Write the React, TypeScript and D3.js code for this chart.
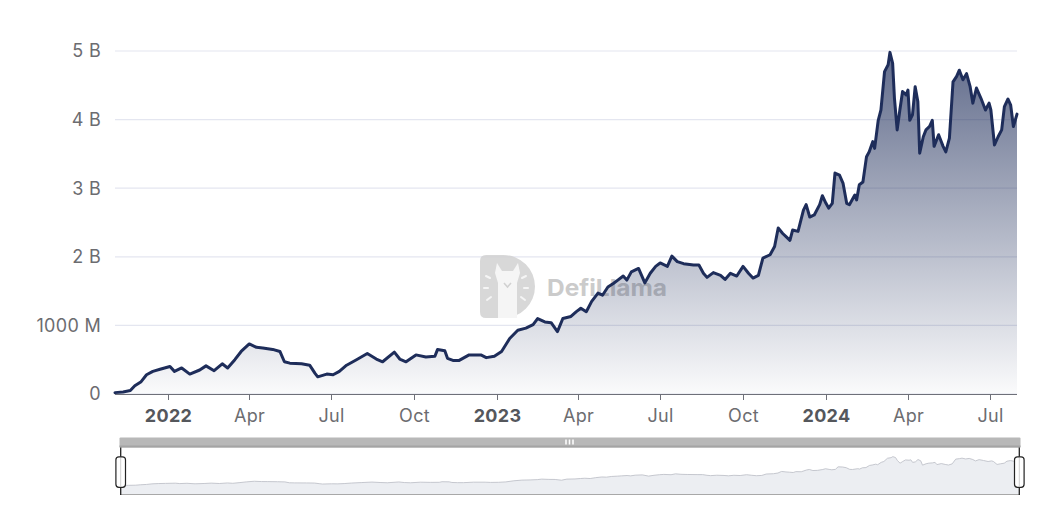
import React from "react";
import * as d3 from "d3";

// TVL in billions USD
const dates: string[] = [
  "2021-11-03","2021-11-12","2021-11-20","2021-11-25","2021-12-02","2021-12-08","2021-12-15","2021-12-23",
  "2022-01-03","2022-01-08","2022-01-16","2022-01-25","2022-02-05","2022-02-12","2022-02-21","2022-03-02",
  "2022-03-08","2022-03-16","2022-03-23","2022-04-01","2022-04-09","2022-04-16","2022-04-27","2022-05-05",
  "2022-05-10","2022-05-16","2022-05-29","2022-06-07","2022-06-13","2022-06-16","2022-06-26","2022-07-03",
  "2022-07-10","2022-07-18","2022-07-29","2022-08-10","2022-08-20","2022-08-27","2022-09-09","2022-09-15",
  "2022-09-22","2022-10-03","2022-10-14","2022-10-24","2022-10-27","2022-11-04","2022-11-07","2022-11-13",
  "2022-11-20","2022-12-01","2022-12-14","2022-12-20","2022-12-29","2023-01-06","2023-01-15","2023-01-24",
  "2023-02-02","2023-02-10","2023-02-15","2023-02-23","2023-03-02","2023-03-09","2023-03-15","2023-03-24",
  "2023-03-30","2023-04-04","2023-04-10","2023-04-16","2023-04-23","2023-04-28","2023-05-04","2023-05-10",
  "2023-05-15","2023-05-21","2023-05-25","2023-05-30","2023-06-07","2023-06-14","2023-06-20","2023-06-26",
  "2023-07-01","2023-07-09","2023-07-14","2023-07-20","2023-07-27","2023-08-07","2023-08-13","2023-08-18",
  "2023-08-22","2023-08-29","2023-09-06","2023-09-11","2023-09-17","2023-09-24","2023-10-01","2023-10-07",
  "2023-10-12","2023-10-18","2023-10-23","2023-10-31","2023-11-05","2023-11-09","2023-11-14","2023-11-18",
  "2023-11-22","2023-11-25","2023-12-01","2023-12-07","2023-12-10","2023-12-14","2023-12-19","2023-12-25",
  "2023-12-28","2024-01-01","2024-01-04","2024-01-08","2024-01-11","2024-01-16","2024-01-20","2024-01-24",
  "2024-01-27","2024-02-02","2024-02-04","2024-02-07","2024-02-11","2024-02-15","2024-02-18","2024-02-22",
  "2024-02-24","2024-02-28","2024-03-02","2024-03-06","2024-03-10","2024-03-12","2024-03-15","2024-03-17",
  "2024-03-20","2024-03-23","2024-03-26","2024-03-30","2024-04-01","2024-04-03","2024-04-06","2024-04-09",
  "2024-04-12","2024-04-14","2024-04-18","2024-04-21","2024-04-25","2024-04-28","2024-04-30","2024-05-05",
  "2024-05-10","2024-05-13","2024-05-17","2024-05-21","2024-05-25","2024-05-28","2024-06-01","2024-06-05",
  "2024-06-09","2024-06-12","2024-06-16","2024-06-21","2024-06-26","2024-06-30","2024-07-02","2024-07-06",
  "2024-07-10","2024-07-14","2024-07-17","2024-07-21","2024-07-24","2024-07-27","2024-07-31",
];

const tvl: number[] = [
  0.02,0.03,0.05,0.12,0.18,0.28,0.33,0.36,
  0.40,0.33,0.38,0.29,0.35,0.41,0.34,0.44,
  0.38,0.50,0.62,0.73,0.68,0.67,0.65,0.62,
  0.47,0.45,0.44,0.42,0.30,0.25,0.29,0.28,
  0.33,0.42,0.50,0.59,0.51,0.47,0.61,0.51,
  0.47,0.57,0.54,0.55,0.65,0.63,0.52,0.49,
  0.49,0.57,0.57,0.53,0.55,0.62,0.81,0.93,
  0.96,1.01,1.10,1.05,1.04,0.91,1.10,1.13,
  1.20,1.25,1.20,1.35,1.47,1.44,1.56,1.61,
  1.66,1.72,1.66,1.78,1.83,1.62,1.76,1.86,
  1.91,1.86,2.01,1.93,1.90,1.88,1.88,1.76,
  1.70,1.77,1.73,1.67,1.76,1.72,1.86,1.76,
  1.69,1.73,1.98,2.03,2.15,2.42,2.34,2.29,
  2.24,2.39,2.37,2.68,2.76,2.58,2.61,2.76,
  2.89,2.78,2.71,2.78,3.22,3.19,3.07,2.78,
  2.76,2.90,2.83,3.05,3.09,3.46,3.53,3.68,
  3.58,3.99,4.14,4.70,4.80,4.98,4.82,4.31,
  3.85,4.14,4.41,4.36,4.43,3.99,4.07,4.48,
  4.26,3.51,3.75,3.85,3.90,3.99,3.61,3.78,
  3.61,3.53,3.73,4.55,4.63,4.72,4.58,4.67,
  4.48,4.24,4.46,4.31,4.14,4.24,4.14,3.63,
  3.75,3.85,4.19,4.30,4.21,3.90,4.08,
];

const yTicks: number[] = [0, 1, 2, 3, 4, 5];
const yTickLabels: string[] = ["0", "1000 M", "2 B", "3 B", "4 B", "5 B"];
const xTickDates: string[] = [
  "2022-01-01","2022-04-01","2022-07-01","2022-10-01",
  "2023-01-01","2023-04-01","2023-07-01","2023-10-01",
  "2024-01-01","2024-04-01","2024-07-01",
];
const xTickLabels: string[] = ["2022","Apr","Jul","Oct","2023","Apr","Jul","Oct","2024","Apr","Jul"];

const W = 1060;
const H = 514;
const FONT = "Inter, 'DejaVu Sans', sans-serif";
const LINE = "#1e2d5a";

type Pt = { d: Date; v: number };

export default function App() {
  const parse = d3.utcParse("%Y-%m-%d");
  const data: Pt[] = dates.map((s, i) => ({ d: parse(s) as Date, v: tvl[i] }));
  const extent = d3.extent(data, (p) => p.d) as [Date, Date];

  const x = d3.scaleUtc().domain(extent).range([115, 1017]);
  const y = d3.scaleLinear().domain([0, 5]).range([394, 51]);

  const line = d3.line<Pt>().x((p) => x(p.d)).y((p) => y(p.v));
  const area = d3.area<Pt>().x((p) => x(p.d)).y0(y(0)).y1((p) => y(p.v));

  // data zoom preview
  const vMin = d3.min(tvl) as number;
  const vMax = d3.max(tvl) as number;
  const pad = (vMax - vMin) * 0.3;
  const xs = d3.scaleUtc().domain(extent).range([120.5, 1019.5]);
  const ys = d3.scaleLinear().domain([vMin - pad, vMax + pad]).range([494, 448]);
  const miniLine = d3.line<Pt>().x((p) => xs(p.d)).y((p) => ys(p.v));
  const miniArea = d3.area<Pt>().x((p) => xs(p.d)).y0(494).y1((p) => ys(p.v));

  const yMaxPix = y(vMax);

  return (
    <svg
      width={W}
      height={H}
      style={{ position: "absolute", left: 0, top: 0, background: "#fff" }}
      fontFamily={FONT}
    >
      <defs>
        <linearGradient id="fillGrad" gradientUnits="userSpaceOnUse" x1="0" y1={yMaxPix} x2="0" y2={y(0)}>
          <stop offset="0" stopColor={LINE} stopOpacity={0.7} />
          <stop offset="1" stopColor={LINE} stopOpacity={0.02} />
        </linearGradient>
      </defs>

      {/* grid */}
      {yTicks.map((t, i) => (
        <g key={"y" + i}>
          <line x1={115} x2={1017} y1={y(t)} y2={y(t)} stroke="#e4e6f0" strokeWidth={1.2} />
          <text x={101} y={y(t)} dy="0.35em" textAnchor="end" fontSize={18} fill="#6c6c70" letterSpacing={0.3}>
            {yTickLabels[i]}
          </text>
        </g>
      ))}

      {/* watermark */}
      <g opacity={0.85}>
        <path
          d="M486,255 H503.5 A31.5,31.5 0 0 1 503.5,318 H486 Q480,318 480,312 V261 Q480,255 486,255 Z"
          fill="#d2d2d2"
        />
        <path
          d="M498,318 V283 L495,273 L497,263 L502,271 H513 L518,263 L520,273 L517,283 V318 Z"
          fill="#f4f4f4"
        />
        <path d="M504,283 L507.5,287 L511,283" stroke="#c9c9c9" strokeWidth={1.5} fill="none" />
        {[
          [486, 276, 490, 278], [484, 288, 488, 288], [487, 300, 491, 297],
          [526, 276, 522, 278], [528, 288, 524, 288], [525, 300, 521, 297],
        ].map((s, i) => (
          <line key={"wm" + i} x1={s[0]} y1={s[1]} x2={s[2]} y2={s[3]} stroke="#f4f4f4" strokeWidth={2} strokeLinecap="round" />
        ))}
        <text x={547} y={296} fontSize={23} fontWeight={700} fill="#c2c2c2" textLength={120} lengthAdjust="spacingAndGlyphs">
          DefiLlama
        </text>
      </g>

      {/* area + line */}
      <path d={area(data) as string} fill="url(#fillGrad)" />
      <path d={line(data) as string} fill="none" stroke={LINE} strokeWidth={3} strokeLinejoin="round" strokeLinecap="round" />

      {/* x axis */}
      <line x1={115} x2={1017} y1={394.5} y2={394.5} stroke="#6e7079" strokeWidth={1} />
      {xTickDates.map((s, i) => {
        const xx = Math.round(x(parse(s) as Date)) + 0.5;
        const bold = /^\d{4}$/.test(xTickLabels[i]);
        return (
          <g key={"x" + i}>
            <line x1={xx} x2={xx} y1={394.5} y2={400} stroke="#6e7079" strokeWidth={1} />
            <text x={xx} y={422} textAnchor="middle" fontSize={18} fontWeight={bold ? 700 : 400} fill={bold ? "#55575c" : "#6c6c70"} letterSpacing={0.3}>
              {xTickLabels[i]}
            </text>
          </g>
        );
      })}

      {/* data zoom slider */}
      <rect x={119.5} y={437.5} width={901} height={10} fill="#b8b8b8" rx={1} />
      <rect x={119.5} y={445.5} width={901} height={2} fill="#a4a4a4" />
      {[566, 569.5, 573].map((xx, i) => (
        <rect key={"g" + i} x={xx - 0.75} y={439.5} width={1.5} height={5} fill="#ffffff" />
      ))}
      <path d={miniArea(data) as string} fill="#eceef2" />
      <path d={miniLine(data) as string} fill="none" stroke="#bfc2ca" strokeWidth={0.9} />
      <line x1={120} x2={1020} y1={494.5} y2={494.5} stroke="#a8a8a8" strokeWidth={1.2} />
      {[120.7, 1019.3].map((xx, i) => (
        <g key={"h" + i}>
          <line x1={xx} x2={xx} y1={447.5} y2={495} stroke="#222" strokeWidth={1.3} />
          <rect x={xx - 4.8} y={456.8} width={9.6} height={30.5} rx={3} fill="#fff" stroke="#222" strokeWidth={1.2} />
          <line x1={xx} x2={xx} y1={458} y2={486} stroke="#cfcfcf" strokeWidth={1} />
        </g>
      ))}
    </svg>
  );
}
